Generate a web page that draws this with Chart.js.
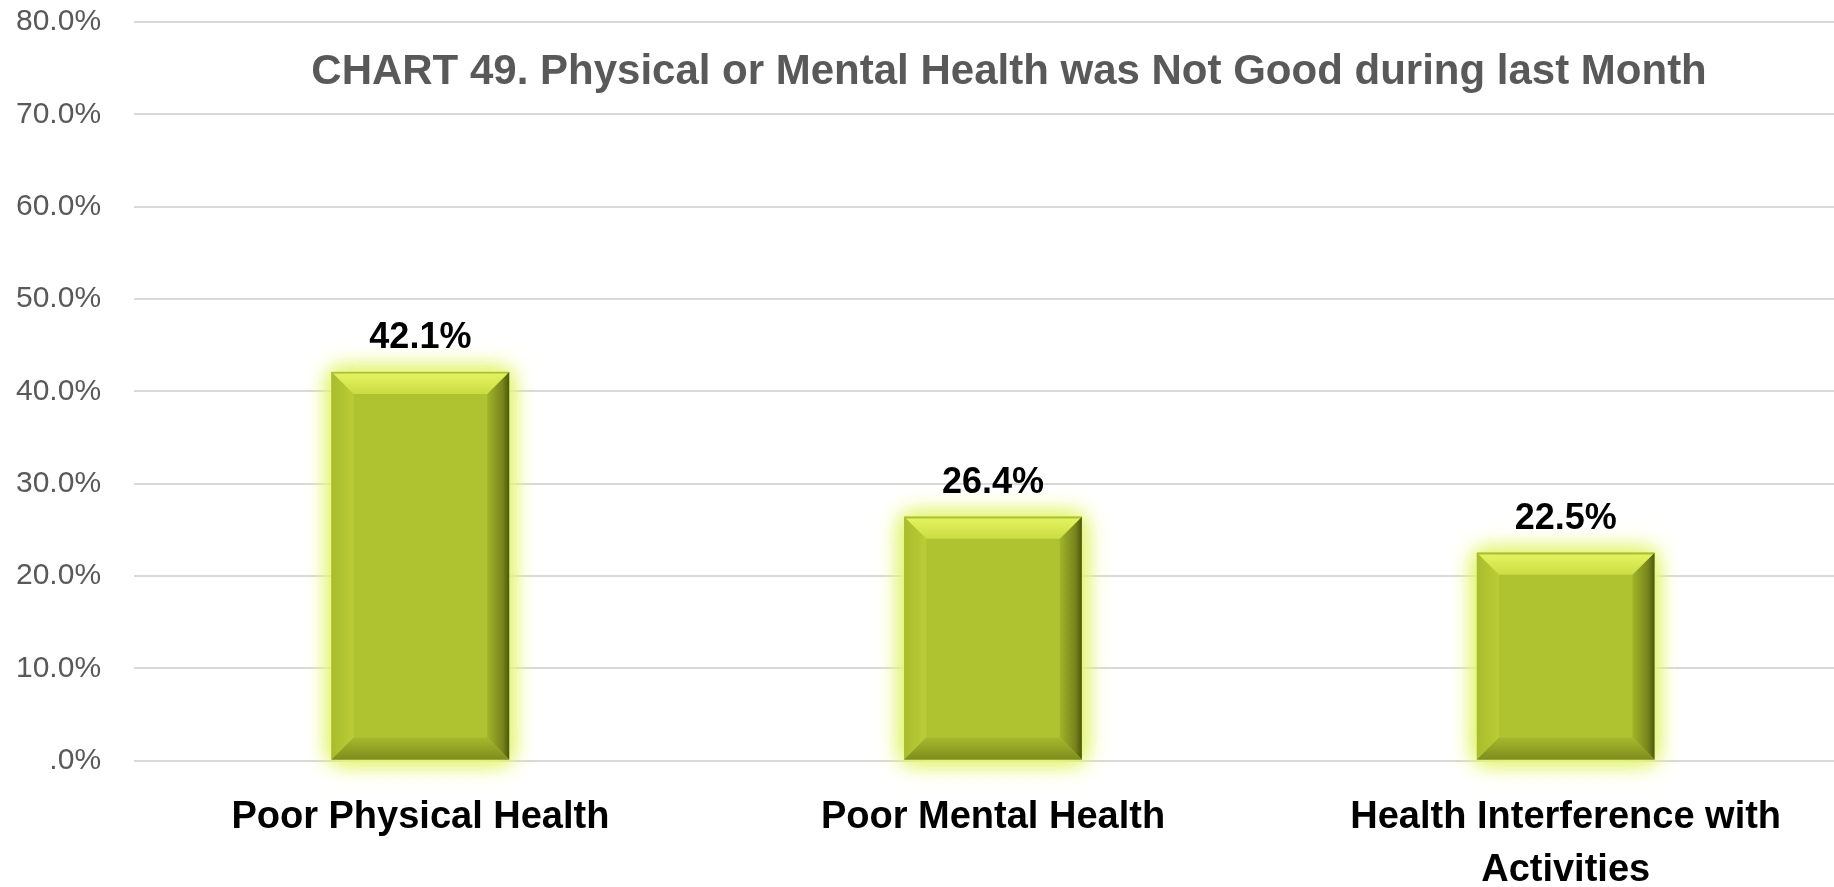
<!DOCTYPE html>
<html>
<head>
<meta charset="utf-8">
<script src="https://cdn.jsdelivr.net/npm/chart.js@4.4.0/dist/chart.umd.min.js"></script>
<style>
  html, body { margin: 0; padding: 0; background: #fff; overflow: hidden; }
  canvas { display: block; }
</style>
</head>
<body>
<canvas id="healthChart" width="1852" height="897"></canvas>
<script>
// chart data
const categories = [
    'Poor Physical Health',
    'Poor Mental Health',
    ['Health Interference with', 'Activities']
];
const percentValues = [42.1, 26.4, 22.5];
const yTicks = [0, 10, 20, 30, 40, 50, 60, 70, 80];
const chartTitle = 'CHART 49. Physical or Mental Health was Not Good during last Month';

const FONT = '"Liberation Sans", Arial, sans-serif';

function fmtPct(v) {
    return v === 0 ? '.0%' : v.toFixed(1) + '%';
}

// soft glow behind each bar
const glowPlugin = {
    id: 'glow',
    beforeDatasetsDraw(chart) {
        const ctx = chart.ctx;
        chart.getDatasetMeta(0).data.forEach(bar => {
            const p = bar.getProps(['x', 'y', 'base', 'width'], true);
            ctx.save();
            ctx.shadowColor = 'rgba(228, 245, 120, 1)';
            ctx.shadowBlur = 22;
            ctx.fillStyle = '#AFC22F';
            for (let i = 0; i < 3; i++) {
                ctx.fillRect(p.x - p.width / 2, p.y, p.width, p.base - p.y);
            }
            ctx.restore();
        });
    }
};

// bevel edges + value labels
const bevelPlugin = {
    id: 'bevel',
    afterDatasetsDraw(chart) {
        const ctx = chart.ctx;
        chart.getDatasetMeta(0).data.forEach((bar, i) => {
            const p = bar.getProps(['x', 'y', 'base', 'width'], true);
            const l = p.x - p.width / 2, r = p.x + p.width / 2, t = p.y, b = p.base;
            const s = 22;

            function poly(pts, fill) {
                ctx.beginPath();
                ctx.moveTo(pts[0][0], pts[0][1]);
                for (let k = 1; k < pts.length; k++) ctx.lineTo(pts[k][0], pts[k][1]);
                ctx.closePath();
                ctx.fillStyle = fill;
                ctx.fill();
            }

            ctx.save();
            // left
            let g = ctx.createLinearGradient(l, 0, l + s, 0);
            g.addColorStop(0, '#A9BC2B');
            g.addColorStop(1, '#BACD37');
            poly([[l, t], [l + s, t + s], [l + s, b - s], [l, b]], g);
            // right
            g = ctx.createLinearGradient(r - s, 0, r, 0);
            g.addColorStop(0, '#A2B42A');
            g.addColorStop(0.7, '#77851B');
            g.addColorStop(1, '#4E5810');
            poly([[r, t], [r, b], [r - s, b - s], [r - s, t + s]], g);
            // bottom
            g = ctx.createLinearGradient(0, b - s, 0, b);
            g.addColorStop(0, '#A6B82B');
            g.addColorStop(1, '#7E8D1D');
            poly([[l, b], [r, b], [r - s, b - s], [l + s, b - s]], g);
            // top
            g = ctx.createLinearGradient(0, t, 0, t + s);
            g.addColorStop(0, '#9DAE26');
            g.addColorStop(0.12, '#E2F25E');
            g.addColorStop(1, '#CADC42');
            poly([[l, t], [r, t], [r - s, t + s], [l + s, t + s]], g);
            ctx.restore();

            // value label
            ctx.save();
            ctx.font = 'bold 36px ' + FONT;
            ctx.fillStyle = '#000000';
            ctx.textAlign = 'center';
            ctx.textBaseline = 'alphabetic';
            ctx.fillText(fmtPct(percentValues[i]), p.x, t - 24);
            ctx.restore();
        });
    }
};

// title sits inside the plot area
const titlePlugin = {
    id: 'innerTitle',
    afterDraw(chart) {
        const ctx = chart.ctx;
        const area = chart.chartArea;
        ctx.save();
        ctx.font = 'bold 42px ' + FONT;
        ctx.fillStyle = '#595959';
        ctx.textAlign = 'center';
        ctx.textBaseline = 'alphabetic';
        ctx.fillText(chartTitle, (area.left + area.right) / 2 + 16, area.top + 62);
        ctx.restore();
    }
};

window.addEventListener('DOMContentLoaded', () => {
    const ctx = document.getElementById('healthChart').getContext('2d');
    new Chart(ctx, {
        type: 'bar',
        data: {
            labels: categories,
            datasets: [{
                label: 'Health not good',
                data: percentValues,
                backgroundColor: '#AFC22F',
                borderWidth: 0,
                categoryPercentage: 1.0,
                barPercentage: 0.31
            }]
        },
        options: {
            responsive: false,
            animation: false,
            layout: { padding: { top: 22, left: 16, right: 0, bottom: 0 } },
            plugins: {
                legend: { display: false },
                tooltip: { enabled: false },
                title: { display: false }
            },
            scales: {
                x: {
                    grid: { display: false, drawTicks: false },
                    border: { display: false },
                    ticks: {
                        color: '#000000',
                        font: { family: FONT, size: 38, weight: 'bold', lineHeight: 1.4 },
                        padding: 30,
                        maxRotation: 0,
                        autoSkip: false
                    },
                    // chart.js reserves the tick padding twice; keep it once
                    afterFit(scale) {
                        scale.height -= scale.options.ticks.padding;
                    }
                },
                y: {
                    min: yTicks[0],
                    max: yTicks[yTicks.length - 1],
                    afterBuildTicks(axis) {
                        axis.ticks = yTicks.map(v => ({ value: v }));
                    },
                    grid: { color: '#D9D9D9', lineWidth: 2, drawTicks: false },
                    border: { display: false },
                    ticks: {
                        color: '#595959',
                        font: { family: FONT, size: 30 },
                        padding: 33,
                        callback: v => fmtPct(v)
                    },
                    afterFit(scale) {
                        const pad = scale.options.ticks.padding;
                        scale.width -= pad;
                        scale.paddingTop -= pad;
                        scale.paddingBottom -= pad;
                    }
                }
            }
        },
        plugins: [glowPlugin, bevelPlugin, titlePlugin]
    });
});
</script>
</body>
</html>
